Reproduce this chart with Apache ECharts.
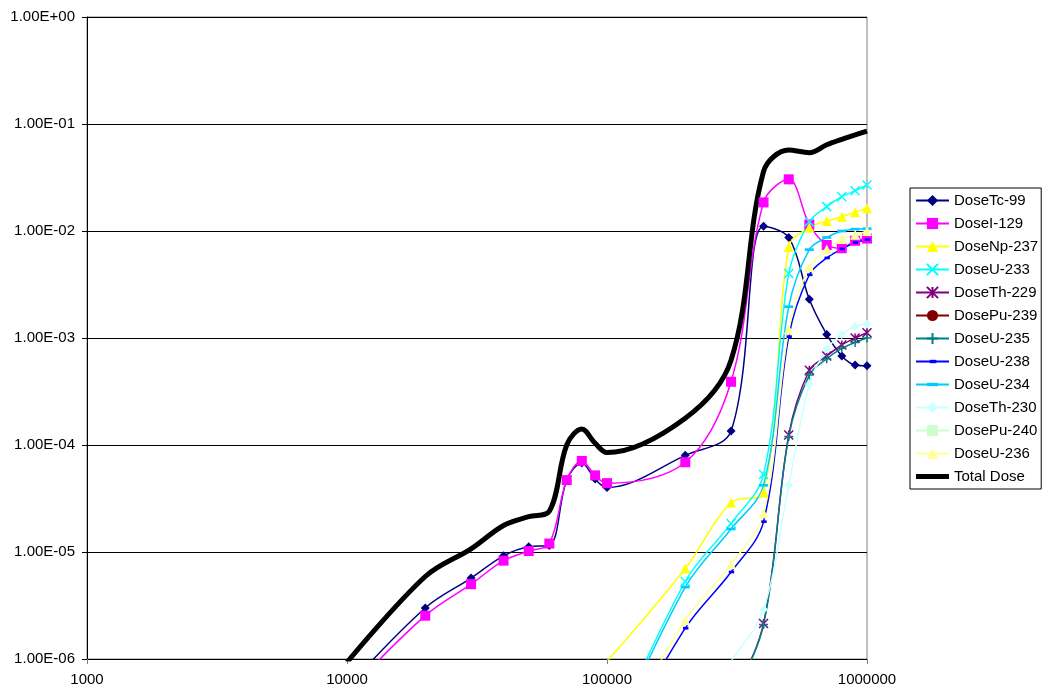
<!DOCTYPE html>
<html>
<head>
<meta charset="utf-8">
<script src="https://cdn.jsdelivr.net/npm/echarts@6/dist/echarts.min.js"></script>
<style>
html,body{margin:0;padding:0;background:#fff;}
#chart{width:1043px;height:692px;}
</style>
</head>
<body>
<div id="chart"></div>
<script>
// ---- data ----
var xTimes = [10000,20000,30000,40000,50000,60000,70000,80000,90000,100000,200000,300000,400000,500000,600000,700000,800000,900000,1000000];
var xTickLabels = ['1000','10000','100000','1000000'];           // 1e3..1e6
var yTickLabels = ['1.00E-06','1.00E-05','1.00E-04','1.00E-03','1.00E-02','1.00E-01','1.00E+00']; // 1e-6..1e0

var doseTc99  = [5.4e-7,3.0e-6,5.7e-6,9.2e-6,1.12e-5,1.15e-5,4.7e-5,6.8e-5,4.8e-5,4.0e-5,8.0e-5,1.35e-4,1.11e-2,8.7e-3,2.3e-3,1.08e-3,6.8e-4,5.6e-4,5.5e-4];
var doseI129  = [4.8e-7,2.54e-6,5.0e-6,8.3e-6,1.02e-5,1.2e-5,4.7e-5,7.1e-5,5.2e-5,4.4e-5,6.9e-5,3.9e-4,1.85e-2,3.04e-2,1.15e-2,7.4e-3,6.9e-3,8.1e-3,8.5e-3];
var doseNp237 = [null,null,null,null,null,null,null,null,null,9.5e-7,7.0e-6,2.9e-5,3.6e-5,7.1e-3,1.08e-2,1.24e-2,1.36e-2,1.5e-2,1.63e-2];
var doseU233  = [null,null,null,null,null,null,null,null,null,1.5e-7,5.3e-6,1.85e-5,5.3e-5,4.0e-3,1.22e-2,1.69e-2,2.09e-2,2.38e-2,2.69e-2];
var doseTh229 = [null,null,null,null,null,null,null,null,null,null,5e-8,4e-7,2.15e-6,1.24e-4,5.0e-4,6.8e-4,8.6e-4,1.0e-3,1.12e-3];
var dosePu239 = [null,null,null,null,null,null,null,null,null,null,null,null,null,1e-8,5e-8,1e-7,1.5e-7,2e-7,2.5e-7];
var doseU235  = [null,null,null,null,null,null,null,null,null,null,5e-8,4e-7,2.1e-6,1.2e-4,4.5e-4,6.4e-4,8.0e-4,9.1e-4,1.0e-3];
var doseU238  = [null,null,null,null,null,null,null,null,null,1e-7,1.94e-6,6.5e-6,1.92e-5,1.03e-3,3.9e-3,5.6e-3,6.8e-3,7.8e-3,8.3e-3];
var doseU234  = [null,null,null,null,null,null,null,null,null,1.4e-7,4.7e-6,1.64e-5,4.2e-5,1.96e-3,6.7e-3,8.7e-3,1.0e-2,1.04e-2,1.05e-2];
var doseTh230 = [null,null,null,null,null,null,null,null,null,null,2e-7,9.5e-7,2.9e-6,4.2e-5,3.7e-4,7.9e-4,1.08e-3,1.28e-3,1.35e-3];
var dosePu240 = [null,null,null,null,null,null,null,null,null,null,null,null,null,1e-8,4e-8,8e-8,1.2e-7,1.6e-7,2e-7];
var doseU236  = [null,null,null,null,null,null,null,null,null,1.2e-7,2.3e-6,7.7e-6,2.3e-5,1.2e-3,4.6e-3,6.7e-3,8.4e-3,9.2e-3,1.0e-2];
var totalDose = [9.3e-7,5.9e-6,1.07e-5,1.77e-5,2.14e-5,2.4e-5,1.0e-4,1.41e-4,1.04e-4,8.5e-5,1.78e-4,6.2e-4,3.6e-2,5.7e-2,5.4e-2,6.4e-2,7.2e-2,7.9e-2,8.6e-2];

var seriesNames = ['DoseTc-99','DoseI-129','DoseNp-237','DoseU-233','DoseTh-229','DosePu-239','DoseU-235','DoseU-238','DoseU-234','DoseTh-230','DosePu-240','DoseU-236','Total Dose'];
var seriesValues = [doseTc99,doseI129,doseNp237,doseU233,doseTh229,dosePu239,doseU235,doseU238,doseU234,doseTh230,dosePu240,doseU236,totalDose];

// ---- styles ----
var XPATH = 'path://M0 0L10 10M10 0L0 10';
var STARPATH = 'path://M0 0L10 10M10 0L0 10M5 0L5 10';
var PLUSPATH = 'path://M5 0L5 10M0 5L10 5';
var DASH_LONG = 'path://M0 0M10 10M0 3.5h10v3h-10z';
var DASH_SHORT = 'path://M0 0M10 10M2.5 3.5h6v3h-6z';
var THICK_LINE = 'path://M0 0M33 14M0 4.5h33v5h-33z';
var styles = [
  {color:'#000080', symbol:'diamond', size:9},
  {color:'#FF00FF', symbol:'rect', size:10},
  {color:'#FFFF00', symbol:'triangle', size:10},
  {color:'#00FFFF', symbol:XPATH, size:9, stroke:true},
  {color:'#800080', symbol:STARPATH, size:9, stroke:true},
  {color:'#800000', symbol:'circle', size:9},
  {color:'#008080', symbol:PLUSPATH, size:9, stroke:true},
  {color:'#0000FF', symbol:DASH_SHORT, size:9},
  {color:'#00CCFF', symbol:DASH_LONG, size:9},
  {color:'#CCFFFF', symbol:'diamond', size:9},
  {color:'#CCFFCC', symbol:'rect', size:10},
  {color:'#FFFF99', symbol:'triangle', size:10},
  {color:'#000000', symbol:'none', size:0, width:5}
];

var FONT = "'Liberation Sans', Arial, sans-serif";

var series = seriesNames.map(function(name, i){
  var st = styles[i];
  var data = [];
  seriesValues[i].forEach(function(v, j){ if (v !== null) data.push([xTimes[j], v]); });
  return {
    name: name,
    type: 'line',
    data: data,
    smooth: 0.35,
    clip: true,
    symbol: st.symbol,
    symbolSize: st.size,
    showSymbol: st.symbol !== 'none',
    lineStyle: {color: st.color, width: st.width || 1.5},
    itemStyle: st.stroke ? {color: st.color, borderColor: st.color, borderWidth: 1.5}
                         : {color: st.color, borderWidth: 0},
    emphasis: {disabled: true},
    animation: false
  };
});

var legendData = seriesNames.map(function(name, i){
  if (styles[i].symbol === 'none') {
    return {name: name, icon: THICK_LINE, itemStyle: {color: '#000', borderWidth: 0}};
  }
  return {name: name};
});

var chart = echarts.init(document.getElementById('chart'), null, {renderer:'canvas'});
chart.setOption({
  backgroundColor: '#ffffff',
  animation: false,
  grid: {left: 87, right: 176, top: 17, bottom: 33, show: true, borderColor: '#808080', borderWidth: 1, backgroundColor: '#ffffff'},
  legend: {
    orient: 'vertical',
    left: 910, top: 188,
    data: legendData,
    itemWidth: 33, itemHeight: 14, itemGap: 8,
    padding: [5, 3, 5, 5],
    borderColor: '#000', borderWidth: 1,
    backgroundColor: '#fff',
    textStyle: {fontFamily: FONT, fontSize: 15, color: '#000'},
    selectedMode: false
  },
  xAxis: {
    type: 'log', logBase: 10, min: 1000, max: 1000000,
    axisLine: {show: true, lineStyle: {color: '#000', width: 1}},
    axisTick: {show: true, inside: false, length: 5, lineStyle: {color: '#808080'}},
    axisLabel: {fontFamily: FONT, fontSize: 15, color: '#000', margin: 13,
      formatter: function(v){ var k = Math.round(Math.log10(v)) - 3; return xTickLabels[k] || ''; }},
    splitLine: {show: false},
    minorTick: {show: false}
  },
  yAxis: {
    type: 'log', logBase: 10, min: 1e-6, max: 1,
    axisLine: {show: true, lineStyle: {color: '#000', width: 1}},
    axisTick: {show: true, inside: false, length: 5, lineStyle: {color: '#000'}},
    axisLabel: {fontFamily: FONT, fontSize: 15, color: '#000', margin: 12,
      formatter: function(v){ var k = Math.round(Math.log10(v)) + 6; return yTickLabels[k] || ''; }},
    splitLine: {show: true, lineStyle: {color: '#000', width: 1}},
    minorTick: {show: false}
  },
  series: series
});
</script>
</body>
</html>
